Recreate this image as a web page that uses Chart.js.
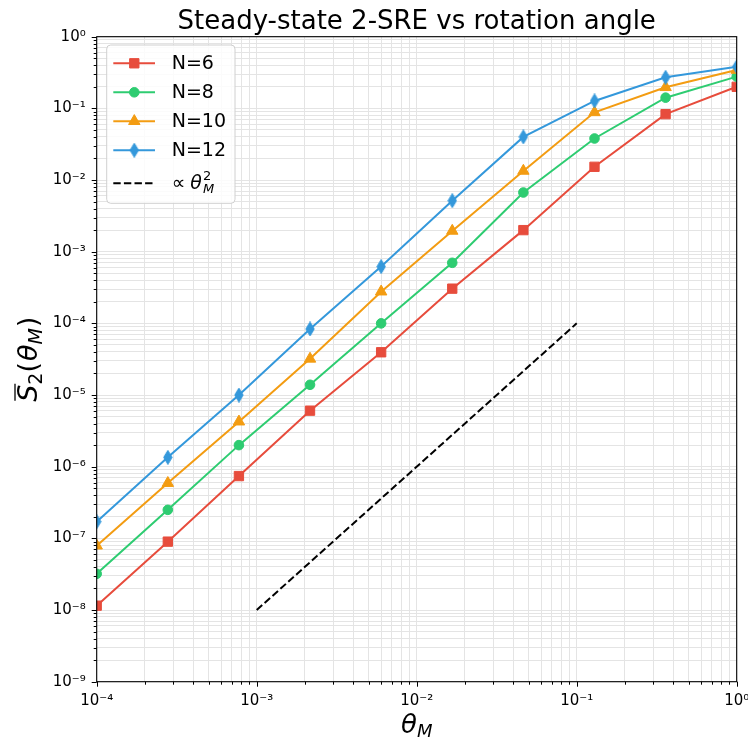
<!DOCTYPE html>
<html>
<head>
<meta charset="utf-8">
<script src="https://cdn.jsdelivr.net/npm/chart.js@4.4.0/dist/chart.umd.min.js"></script>
<style>
html,body{margin:0;padding:0;background:#fff;}
#wrap{width:748px;height:740px;position:relative;}
</style>
</head>
<body>
<div id="wrap"><canvas id="c" width="748" height="740"></canvas></div>
<script>
// ---- data ----
const theta = [1e-4, 2.783e-4, 7.743e-4, 2.154e-3, 5.995e-3, 1.668e-2, 4.642e-2, 0.1292, 0.3594, 1];
const seriesLabels = ['N=6', 'N=8', 'N=10', 'N=12'];
const sN6  = [1.15e-8, 9.0e-8, 7.4e-7, 6.05e-6, 3.95e-5, 3.05e-4, 2.0e-3, 1.53e-2, 8.3e-2, 0.200];
const sN8  = [3.2e-8, 2.5e-7, 2.0e-6, 1.39e-5, 1.0e-4, 7.0e-4, 6.7e-3, 3.8e-2, 0.141, 0.277];
const sN10 = [7.9e-8, 5.9e-7, 4.25e-6, 3.2e-5, 2.77e-4, 1.95e-3, 1.34e-2, 8.8e-2, 0.197, 0.343];
const sN12 = [1.71e-7, 1.35e-6, 1.0e-5, 8.35e-5, 6.2e-4, 5.15e-3, 4.0e-2, 0.127, 0.271, 0.381];
const refX = [1e-3, 1e-1];
const refY = [1e-8, 1e-4];
const refLabel = '∝ θ²_M';
const xMajor = [1e-4, 1e-3, 1e-2, 1e-1, 1];
const xTickLabels = ['10⁻⁴', '10⁻³', '10⁻²', '10⁻¹', '10⁰'];
const yMajor = [1e-9, 1e-8, 1e-7, 1e-6, 1e-5, 1e-4, 1e-3, 1e-2, 1e-1, 1];
const yTickLabels = ['10⁻⁹', '10⁻⁸', '10⁻⁷', '10⁻⁶', '10⁻⁵', '10⁻⁴', '10⁻³', '10⁻²', '10⁻¹', '10⁰'];
const colors = ['#e74c3c', '#2ecc71', '#f39c12', '#3498db'];
const titleText = 'Steady-state 2-SRE vs rotation angle';

// ---- helpers ----
function withMinors(majors) {
  const out = [];
  for (let i = 0; i < majors.length; i++) {
    out.push(majors[i]);
    if (i < majors.length - 1) for (let k = 2; k <= 9; k++) out.push(majors[i] * k);
  }
  return out;
}
function labelFor(v, majors, labels) {
  const i = majors.findIndex(m => Math.abs(m - v) / m < 1e-6);
  return i >= 0 ? labels[i] : '';
}
function isMajor(v, majors) { return majors.some(m => Math.abs(m - v) / m < 1e-6); }

// thin diamond marker
const diamond = document.createElement('canvas');
diamond.width = 10; diamond.height = 15;
(function () {
  const g = diamond.getContext('2d');
  g.fillStyle = colors[3]; g.strokeStyle = colors[3]; g.lineWidth = 1;
  g.beginPath();
  g.moveTo(5, 0.5); g.lineTo(9.2, 7.5); g.lineTo(5, 14.5); g.lineTo(0.8, 7.5); g.closePath();
  g.fill(); g.stroke();
})();

const FONT = 'DejaVu Sans';
Chart.defaults.font.family = FONT;

function pts(ys) { return theta.map((x, i) => ({ x: x, y: ys[i] })); }

function mkSeries(label, ys, color, style, r, idx) {
  return {
    label: label, data: pts(ys), borderColor: color, backgroundColor: color,
    borderWidth: 2, pointStyle: style, pointRadius: r, pointHoverRadius: r,
    pointBackgroundColor: color, pointBorderColor: color, pointBorderWidth: 1,
    tension: 0, clip: 0, order: 10 - idx
  };
}

function drawPieces(ctx, pieces, x, y, align) {
  pieces.forEach(p => { ctx.font = p.font; p.w = ctx.measureText(p.t).width; });
  const widths = pieces.map(p => p.stack ? 0 : p.w + (p.gap || 0));
  const total = widths.reduce((a, b) => a + b, 0);
  let cx = align === 'center' ? x - total / 2 : x;
  for (let i = 0; i < pieces.length; i++) {
    const p = pieces[i];
    ctx.font = p.font;
    ctx.fillText(p.t, cx + (p.dx || 0), y + (p.dy || 0));
    if (p.bar) {
      ctx.save(); ctx.lineWidth = 1.3; ctx.beginPath();
      ctx.moveTo(cx + 1, y - 22); ctx.lineTo(cx + p.w + 1, y - 22); ctx.stroke(); ctx.restore();
    }
    cx += widths[i];
  }
}

const decor = {
  id: 'decor',
  beforeDraw(chart) {
    const ctx = chart.ctx;
    ctx.save(); ctx.fillStyle = '#fff'; ctx.fillRect(0, 0, chart.width, chart.height); ctx.restore();
  },
  afterDraw(chart) {
    const ctx = chart.ctx, a = chart.chartArea;
    const xs = chart.scales.x, ys = chart.scales.y;
    ctx.save();
    // spines
    ctx.strokeStyle = '#000'; ctx.lineWidth = 1.1;
    ctx.strokeRect(a.left, a.top, a.right - a.left, a.bottom - a.top);
    // tick marks
    ctx.lineWidth = 1;
    xs.ticks.forEach(t => {
      const px = Math.round(xs.getPixelForValue(t.value)) + 0.5;
      const len = isMajor(t.value, xMajor) ? 5 : 3;
      ctx.beginPath(); ctx.moveTo(px, a.bottom); ctx.lineTo(px, a.bottom + len); ctx.stroke();
    });
    ys.ticks.forEach(t => {
      const py = Math.round(ys.getPixelForValue(t.value)) + 0.5;
      const len = isMajor(t.value, yMajor) ? 5 : 3;
      ctx.beginPath(); ctx.moveTo(a.left, py); ctx.lineTo(a.left - len, py); ctx.stroke();
    });
    // title
    ctx.fillStyle = '#000'; ctx.textAlign = 'center'; ctx.textBaseline = 'alphabetic';
    ctx.font = '26px ' + FONT;
    ctx.fillText(titleText, (a.left + a.right) / 2, 28.5);
    // x label
    ctx.textAlign = 'left';
    drawPieces(ctx, [
      { t: 'θ', font: 'italic 26px ' + FONT },
      { t: 'M', font: 'italic 18px ' + FONT, dy: 4 }
    ], (a.left + a.right) / 2, 733, 'center');
    // y label
    ctx.save();
    ctx.translate(37, (a.top + a.bottom) / 2);
    ctx.rotate(-Math.PI / 2);
    ctx.strokeStyle = '#000';
    drawPieces(ctx, [
      { t: 'S', font: 'italic 27px ' + FONT, bar: true },
      { t: '2', font: '19px ' + FONT, dy: 5 },
      { t: '(', font: '27px ' + FONT, gap: 1 },
      { t: 'θ', font: 'italic 27px ' + FONT },
      { t: 'M', font: 'italic 19px ' + FONT, dy: 5, gap: 1 },
      { t: ')', font: '27px ' + FONT }
    ], 0, 0, 'center');
    ctx.restore();

    // legend
    const L = { x: 106.7, y: 45, w: 128.3, h: 158.3, r: 4 };
    ctx.beginPath();
    ctx.moveTo(L.x + L.r, L.y);
    ctx.arcTo(L.x + L.w, L.y, L.x + L.w, L.y + L.h, L.r);
    ctx.arcTo(L.x + L.w, L.y + L.h, L.x, L.y + L.h, L.r);
    ctx.arcTo(L.x, L.y + L.h, L.x, L.y, L.r);
    ctx.arcTo(L.x, L.y, L.x + L.w, L.y, L.r);
    ctx.closePath();
    ctx.fillStyle = 'rgba(255,255,255,0.85)'; ctx.fill();
    ctx.strokeStyle = '#d0d0d0'; ctx.lineWidth = 1; ctx.stroke();
    const rows = [63.3, 92.3, 121.2, 150.2, 183.3];
    const lx0 = 113.3, lx1 = 155, mx = 134.3, tx = 171.7;
    const dss = chart.data.datasets;
    for (let i = 0; i < 4; i++) {
      const ds = dss[i], y = rows[i];
      ctx.strokeStyle = ds.borderColor; ctx.fillStyle = ds.borderColor; ctx.lineWidth = 2; ctx.setLineDash([]);
      ctx.beginPath(); ctx.moveTo(lx0, y); ctx.lineTo(lx1, y); ctx.stroke();
      ctx.lineWidth = 1;
      Chart.helpers.drawPoint(ctx, { pointStyle: ds.pointStyle, radius: ds.pointRadius, rotation: 0, borderWidth: 1 }, mx, y);
      ctx.fillStyle = '#000'; ctx.font = '19px ' + FONT; ctx.textAlign = 'left'; ctx.textBaseline = 'middle';
      ctx.fillText(ds.label, tx, y + 1);
    }
    const d = dss[4], y5 = rows[4];
    ctx.strokeStyle = d.borderColor; ctx.lineWidth = 2; ctx.setLineDash(d.borderDash);
    ctx.beginPath(); ctx.moveTo(lx0, y5); ctx.lineTo(lx1, y5); ctx.stroke();
    ctx.setLineDash([]);
    ctx.fillStyle = '#000'; ctx.textBaseline = 'alphabetic'; ctx.textAlign = 'left';
    drawPieces(ctx, [
      { t: '∝', font: '19px ' + FONT, gap: 5 },
      { t: 'θ', font: 'italic 19px ' + FONT, gap: 1 },
      { t: '2', font: '13px ' + FONT, dy: -9, stack: true },
      { t: 'M', font: 'italic 13px ' + FONT, dy: 4 }
    ], tx, y5 + 6, 'left');
    ctx.restore();
  }
};

new Chart(document.getElementById('c'), {
  type: 'line',
  data: {
    datasets: [
      mkSeries(seriesLabels[0], sN6, colors[0], 'rect', 6.6, 0),
      mkSeries(seriesLabels[1], sN8, colors[1], 'circle', 4.8, 1),
      mkSeries(seriesLabels[2], sN10, colors[2], 'triangle', 6.6, 2),
      mkSeries(seriesLabels[3], sN12, colors[3], diamond, 6, 3),
      {
        label: refLabel, data: refX.map((x, i) => ({ x: x, y: refY[i] })),
        borderColor: '#000', borderWidth: 2, borderDash: [7.4, 3.2], pointRadius: 0,
        fill: false, tension: 0, clip: 0, order: 0
      }
    ]
  },
  plugins: [decor],
  options: {
    responsive: false, animation: false, devicePixelRatio: 1,
    layout: { padding: { top: 36.7, right: 11.3, left: 0, bottom: 0 } },
    plugins: { legend: { display: false }, title: { display: false }, tooltip: { enabled: false } },
    scales: {
      x: {
        type: 'logarithmic', min: 1e-4, max: 1, position: 'bottom',
        afterBuildTicks: s => { s.ticks = withMinors(xMajor).map(v => ({ value: v })); },
        afterFit: s => { s.height = 58.3; s.paddingLeft = 0; s.paddingRight = 0; },
        grid: { color: '#e4e4e4', lineWidth: 1, drawTicks: false },
        border: { display: false },
        ticks: {
          autoSkip: false, maxRotation: 0, minRotation: 0, padding: 10, color: '#000',
          font: { size: 15, family: FONT },
          callback: v => labelFor(v, xMajor, xTickLabels)
        }
      },
      y: {
        type: 'logarithmic', min: 1e-9, max: 1, position: 'left',
        afterBuildTicks: s => { s.ticks = withMinors(yMajor).map(v => ({ value: v })); },
        afterFit: s => { s.width = 96.7; s.paddingTop = 0; s.paddingBottom = 0; },
        grid: { color: '#e4e4e4', lineWidth: 1, drawTicks: false },
        border: { display: false },
        ticks: {
          autoSkip: false, padding: 11, color: '#000',
          font: { size: 15, family: FONT },
          callback: v => labelFor(v, yMajor, yTickLabels)
        }
      }
    }
  }
});
</script>
</body>
</html>
